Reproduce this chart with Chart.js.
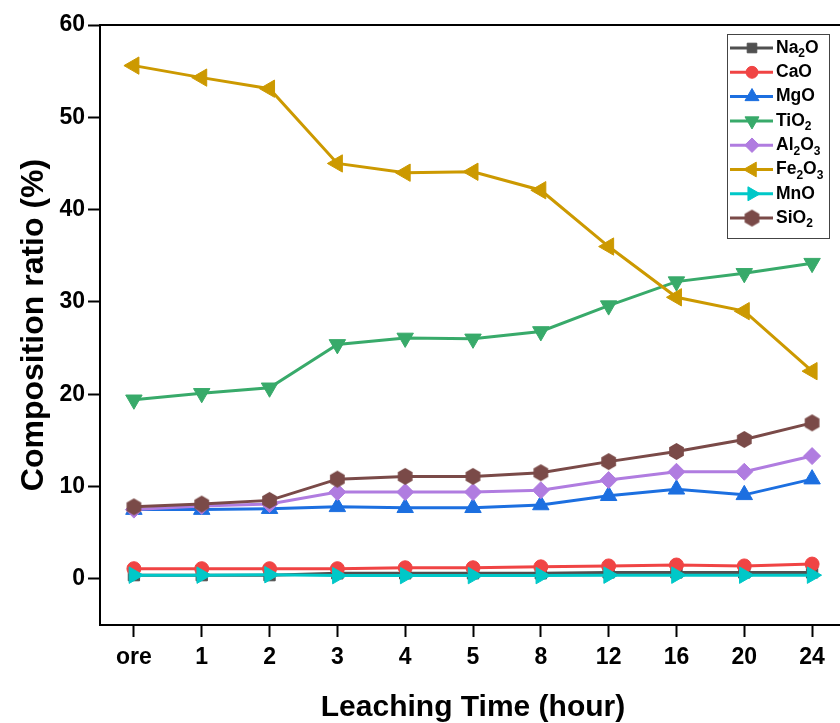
<!DOCTYPE html>
<html>
<head>
<title>Composition ratio vs leaching time</title>
<script src="https://cdn.jsdelivr.net/npm/chart.js"></script>
<style>
  html, body { margin: 0; padding: 0; overflow: hidden; background: #fff; }
  #wrap { width: 857px; height: 723px; }
</style>
</head>
<body>
<div id="wrap"><canvas id="lineChart"></canvas></div>
<script>
// categories and values
const hours = ['ore', '1', '2', '3', '4', '5', '8', '12', '16', '20', '24'];
const yTicks = [0, 10, 20, 30, 40, 50, 60];
const oxides = ['Na2O', 'CaO', 'MgO', 'TiO2', 'Al2O3', 'Fe2O3', 'MnO', 'SiO2'];

const na2o  = [0.4, 0.4, 0.4, 0.6, 0.6, 0.6, 0.6, 0.7, 0.7, 0.7, 0.7];
const cao   = [1.1, 1.1, 1.1, 1.1, 1.2, 1.2, 1.3, 1.4, 1.5, 1.4, 1.6];
const mgo   = [7.5, 7.5, 7.6, 7.8, 7.7, 7.7, 8.0, 9.0, 9.7, 9.1, 10.8];
const tio2  = [19.4, 20.1, 20.7, 25.4, 26.1, 26.0, 26.8, 29.6, 32.2, 33.1, 34.2];
const al2o3 = [7.5, 7.9, 8.1, 9.4, 9.4, 9.4, 9.6, 10.7, 11.6, 11.6, 13.3];
const fe2o3 = [55.6, 54.3, 53.1, 45.0, 44.0, 44.1, 42.1, 36.0, 30.5, 29.0, 22.5];
const mno   = [0.4, 0.4, 0.45, 0.35, 0.35, 0.35, 0.35, 0.4, 0.4, 0.4, 0.4];
const sio2  = [7.8, 8.1, 8.5, 10.8, 11.1, 11.1, 11.5, 12.7, 13.8, 15.1, 16.9];

const values = [na2o, cao, mgo, tio2, al2o3, fe2o3, mno, sio2];
const colors = ['#505050', '#f04444', '#1c6fe0', '#38aa6a', '#b07ce0', '#cc9900', '#00c8c8', '#7a4a48'];

const FONT = '"Liberation Sans", Arial, sans-serif';
Chart.defaults.font.family = FONT;

// Origin-style hexagon marker for SiO2
function hexagon(r, color) {
    const c = document.createElement('canvas');
    const s = Math.ceil(r * 2) + 2;
    c.width = s; c.height = s;
    const g = c.getContext('2d');
    g.fillStyle = color;
    g.beginPath();
    for (let i = 0; i < 6; i++) {
        const a = Math.PI / 3 * i - Math.PI / 2;
        const px = s / 2 + r * Math.cos(a), py = s / 2 + r * Math.sin(a);
        if (i) g.lineTo(px, py); else g.moveTo(px, py);
    }
    g.closePath();
    g.fill();
    return c;
}

const styles = ['rect', 'circle', 'triangle', 'triangle', 'rectRot', 'triangle', 'triangle', hexagon(8.5, colors[7])];
const rotations = [0, 0, 0, 180, 0, 270, 90, 0];
const radii = [8, 7, 9.5, 9.5, 8.5, 10, 9.5, 8.5];

// draws "Fe2O3" with the digits as subscripts
function drawFormula(ctx, text, x, y) {
    ctx.fillStyle = '#000';
    ctx.textBaseline = 'middle';
    ctx.textAlign = 'left';
    for (const part of text.match(/\d+|\D+/g)) {
        const sub = /\d/.test(part);
        ctx.font = sub ? 'bold 12px ' + FONT : 'bold 17.5px ' + FONT;
        ctx.fillText(part, x, sub ? y + 6 : y);
        x += ctx.measureText(part).width;
    }
}

const frameAndLegend = {
    id: 'frameAndLegend',
    afterDraw(chart) {
        const { ctx, chartArea: a } = chart;
        ctx.save();
        ctx.strokeStyle = '#000';
        ctx.lineWidth = 2;
        ctx.beginPath();
        ctx.moveTo(a.left, a.top);
        ctx.lineTo(a.right, a.top);
        ctx.lineTo(a.right, a.bottom);
        ctx.stroke();

        // legend box
        ctx.fillStyle = '#fff';
        ctx.fillRect(727, 34, 102, 204);
        ctx.strokeStyle = '#444';
        ctx.lineWidth = 1;
        ctx.strokeRect(727.5, 34.5, 102, 204);

        chart.data.datasets.forEach((ds, i) => {
            const y = 48 + i * 24.3;
            ctx.strokeStyle = ds.borderColor;
            ctx.lineWidth = 3;
            ctx.beginPath();
            ctx.moveTo(730, y);
            ctx.lineTo(773, y);
            ctx.stroke();
            ctx.fillStyle = ds.borderColor;
            ctx.lineWidth = 1;
            Chart.helpers.drawPoint(ctx, {
                pointStyle: ds.pointStyle,
                radius: ds.pointRadius * 0.85,
                rotation: ds.pointRotation,
                borderWidth: 1
            }, 752, y);
            drawFormula(ctx, ds.label, 776, y);
        });
        ctx.restore();
    }
};

const datasets = oxides.map((name, i) => ({
    label: name,
    data: values[i],
    borderColor: colors[i],
    backgroundColor: colors[i],
    borderWidth: 3,
    pointStyle: styles[i],
    pointRotation: rotations[i],
    pointRadius: radii[i],
    pointHoverRadius: radii[i],
    pointBackgroundColor: colors[i],
    pointBorderColor: colors[i],
    pointBorderWidth: 1,
    tension: 0,
    order: oxides.length - i
}));

const ctx = document.getElementById('lineChart').getContext('2d');
const chart = new Chart(ctx, {
    type: 'line',
    data: { labels: hours, datasets: datasets },
    options: {
        responsive: true,
        maintainAspectRatio: false,
        animation: false,
        layout: { padding: { top: 25, right: 5, left: 0, bottom: 0 } },
        plugins: {
            legend: { display: false },
            tooltip: { enabled: false }
        },
        scales: {
            x: {
                type: 'category',
                offset: true,
                grid: { drawOnChartArea: false, offset: false, tickLength: 12, tickWidth: 2, tickColor: '#000' },
                border: { color: '#000', width: 2 },
                ticks: { color: '#000', font: { size: 23, weight: 'bold' }, padding: 7, maxRotation: 0, autoSkip: false },
                title: {
                    display: true,
                    text: 'Leaching Time (hour)',
                    color: '#000',
                    font: { size: 30, weight: 'bold' },
                    padding: { top: 0, bottom: -3 }
                },
                afterFit: s => { s.height = 98; }
            },
            y: {
                min: -5,
                max: 60,
                afterBuildTicks: s => { s.ticks = yTicks.map(v => ({ value: v })); },
                grid: { drawOnChartArea: false, tickLength: 12, tickWidth: 2, tickColor: '#000' },
                border: { color: '#000', width: 2 },
                ticks: { color: '#000', font: { size: 23, weight: 'bold' }, padding: 3 },
                title: {
                    display: true,
                    text: 'Composition ratio (%)',
                    color: '#000',
                    font: { size: 32, weight: 'bold' },
                    padding: { top: 15, bottom: 0 }
                },
                afterFit: s => { s.width = 100; }
            }
        }
    },
    plugins: [frameAndLegend]
});
</script>
</body>
</html>
